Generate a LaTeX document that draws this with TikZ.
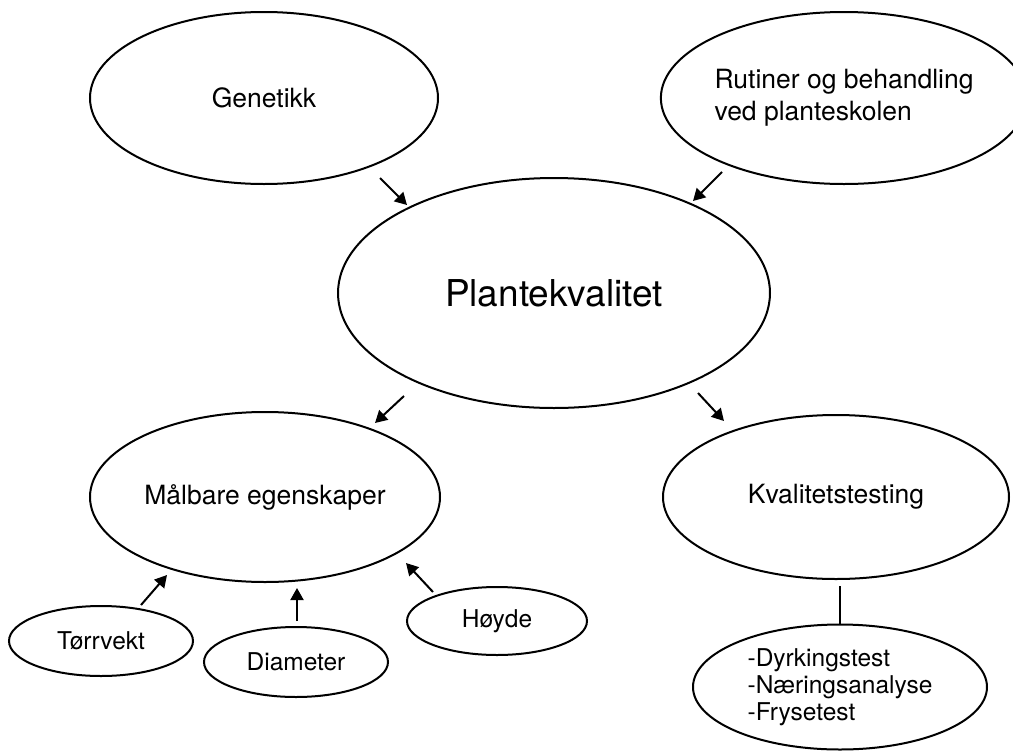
\documentclass[tikz,border=0pt]{standalone}
\usepackage{fontspec}
\setmainfont{TeX Gyre Heros}
\usetikzlibrary{shapes.geometric,arrows.meta}
\begin{document}
\begin{tikzpicture}[x=1pt,y=-1pt,
  oval/.style={ellipse,draw,line width=2pt,inner sep=0pt,font=\fontsize{26.5}{32}\selectfont},
  small/.style={oval,font=\fontsize{24.5}{27}\selectfont},
  arr/.style={line width=2pt,-{Triangle[length=12pt,width=13pt]}},
  link/.style={line width=2pt}]
\useasboundingbox (0,0) rectangle (1013,753);
\node[oval,minimum width=348,minimum height=172] (gen) at (264,98) {Genetikk};
\node[oval,minimum width=334,minimum height=172,align=left] (rut) at (844,98) {Rutiner og behandling\\ved planteskolen};
\node[oval,minimum width=432,minimum height=230,font=\fontsize{37}{44}\selectfont] (pk) at (554,293) {Plantekvalitet};
\node[oval,minimum width=350,minimum height=170] (mal) at (265,497) {Målbare egenskaper};
\node[oval,minimum width=346,minimum height=164] (kval) at (836,497) {Kvalitetstesting};
\node[small,minimum width=184,minimum height=70] (tor) at (101,641) {Tørrvekt};
\node[small,minimum width=184,minimum height=70] (dia) at (296,662) {Diameter};
\node[small,minimum width=180,minimum height=68] (hoy) at (497,621) {Høyde};
\node[small,minimum width=294,minimum height=125,align=left] (test) at (840,687) {-Dyrkingstest\\-Næringsanalyse\\-Frysetest};
% arrow end points
\coordinate (g1) at (380,178); \coordinate (g2) at (407,205);
\coordinate (r1) at (722,172); \coordinate (r2) at (693,201);
\coordinate (m1) at (404,396); \coordinate (m2) at (375,423);
\coordinate (k1) at (698,393); \coordinate (k2) at (724,421);
\coordinate (t1) at (141,605); \coordinate (t2) at (167,575);
\coordinate (d1) at (297,621); \coordinate (d2) at (297,588);
\coordinate (h1) at (433,592); \coordinate (h2) at (406,563);
\coordinate (l1) at (840,586);
\draw[arr] (g1) -- (g2);
\draw[arr] (r1) -- (r2);
\draw[arr] (m1) -- (m2);
\draw[arr] (k1) -- (k2);
\draw[arr] (t1) -- (t2);
\draw[arr] (d1) -- (d2);
\draw[arr] (h1) -- (h2);
\draw[link] (l1) -- (test.north);
\end{tikzpicture}
\end{document}
